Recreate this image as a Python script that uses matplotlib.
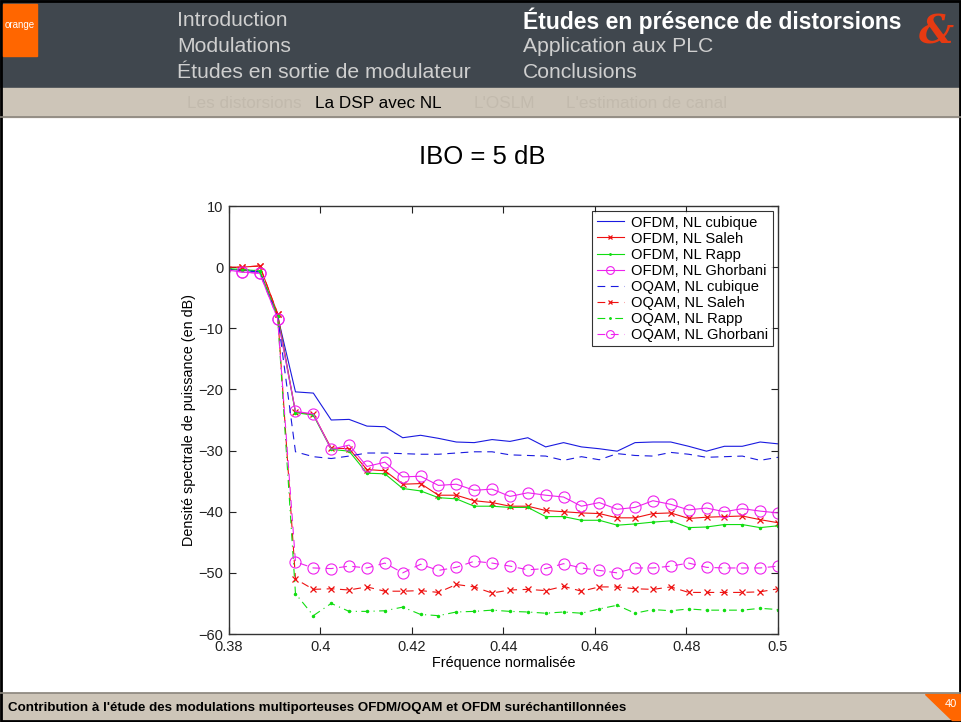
import numpy as np
import matplotlib
matplotlib.use("Agg")
import matplotlib.pyplot as plt
from matplotlib.patches import Rectangle, Polygon

plt.rcParams['font.family'] = ['Liberation Sans', 'DejaVu Sans']

# frequency bins k/256, k = 97..128
freq = np.arange(97, 129) / 256

ofdm_cubique = [-0.3, -0.5, -0.8, -8.0, -20.4, -20.6, -25.0, -24.9, -26.0, -26.1,
                -27.9, -27.5, -28.0, -28.6, -28.7, -28.2, -28.5, -27.9, -29.4, -28.7,
                -29.4, -29.7, -30.1, -28.7, -28.6, -28.6, -29.3, -30.1, -29.3, -29.3,
                -28.6, -28.9]
ofdm_saleh = [0.0, 0.0, 0.2, -7.6, -23.7, -24.1, -29.6, -29.7, -33.1, -33.3,
              -35.5, -35.4, -37.3, -37.3, -38.2, -38.5, -39.1, -39.1, -39.8, -40.0,
              -40.2, -40.3, -41.0, -41.0, -40.3, -40.2, -41.1, -40.9, -40.8, -40.7,
              -41.3, -41.8]
ofdm_rapp = [-0.2, -0.4, -0.6, -8.0, -23.8, -24.2, -29.8, -30.1, -33.7, -33.8,
             -36.2, -36.6, -37.7, -37.9, -39.1, -39.1, -39.3, -39.3, -40.8, -40.8,
             -41.4, -41.4, -42.2, -42.0, -41.7, -41.5, -42.6, -42.5, -42.1, -42.1,
             -42.6, -42.3]
ofdm_ghorbani = [-0.4, -0.8, -1.0, -8.4, -23.6, -24.0, -29.8, -29.1, -32.6, -31.9,
                 -34.3, -34.2, -35.7, -35.5, -36.5, -36.3, -37.5, -36.9, -37.3, -37.6,
                 -39.1, -38.5, -39.6, -39.3, -38.2, -38.8, -39.7, -39.4, -40.0, -39.5,
                 -39.9, -40.2]
oqam_cubique = [-0.3, -0.5, -0.8, -8.0, -30.2, -31.0, -31.3, -30.9, -30.4, -30.4,
                -30.5, -30.6, -30.6, -30.4, -30.2, -30.2, -30.7, -30.8, -30.9, -31.6,
                -31.0, -31.5, -30.5, -30.8, -30.9, -30.3, -30.6, -31.1, -31.0, -30.9,
                -31.6, -31.1]
oqam_saleh = [0.0, 0.0, 0.2, -7.6, -51.0, -52.7, -52.6, -52.8, -52.3, -53.0,
              -53.0, -52.9, -53.2, -51.9, -52.3, -53.3, -52.8, -52.7, -52.9, -52.2,
              -53.0, -52.3, -52.3, -52.6, -52.7, -52.3, -53.2, -53.2, -53.2, -53.2,
              -53.1, -52.6]
oqam_rapp = [-0.2, -0.4, -0.6, -8.0, -53.4, -57.0, -55.0, -56.3, -56.3, -56.2,
             -55.6, -56.8, -57.0, -56.4, -56.3, -56.1, -56.3, -56.4, -56.6, -56.4,
             -56.6, -55.9, -55.3, -56.6, -56.0, -56.2, -55.9, -56.1, -56.1, -56.1,
             -55.8, -56.0]
oqam_ghorbani = [-0.4, -0.8, -1.0, -8.4, -48.2, -49.2, -49.3, -48.9, -49.2, -48.4,
                 -50.0, -48.6, -49.6, -49.1, -48.1, -48.4, -48.9, -49.5, -49.3, -48.5,
                 -49.2, -49.6, -50.0, -49.2, -49.2, -48.9, -48.4, -49.1, -49.2, -49.2,
                 -49.2, -48.9]

xticks = [0.38, 0.4, 0.42, 0.44, 0.46, 0.48, 0.5]
yticks = [-60, -50, -40, -30, -20, -10, 0, 10]

W, H = 961, 722
fig = plt.figure(figsize=(W / 100, H / 100), dpi=100)

# slide background, drawn in pixel coordinates
bg = fig.add_axes([0, 0, 1, 1])
bg.set_xlim(0, W)
bg.set_ylim(H, 0)
bg.axis('off')

dark = '#40474e'
beige = '#cdc5b8'
bg.add_patch(Rectangle((0, 0), W, 88, color=dark))
bg.add_patch(Rectangle((0, 88), W, 29, color=beige))
bg.add_patch(Rectangle((0, 693), W, 29, color=beige))
bg.plot([0, W], [117, 117], color='#8a857c', lw=1.2)
bg.plot([0, W], [693, 693], color='#8a857c', lw=1.2)
bg.add_patch(Rectangle((1, 1), W - 2, H - 2, fill=False, ec='black', lw=2))

# orange logo
bg.add_patch(Rectangle((3, 4), 34, 52, color='#ff6600'))
bg.text(5, 25, 'orange', color='white', fontsize=7, va='center')
# & logo
bg.text(936, 32, '&', color='#e63a12', fontsize=28, style='italic',
        family='DejaVu Serif', ha='center', va='center', weight='bold')

grey = '#cfcfcf'
bg.text(177, 21, 'Introduction', color=grey, fontsize=15.2, va='center')
bg.text(177, 47, 'Modulations', color=grey, fontsize=15.2, va='center')
bg.text(177, 73, 'Études en sortie de modulateur', color=grey, fontsize=15.2, va='center')
bg.text(523, 21, 'Études en présence de distorsions', color='white', fontsize=16.5,
        weight='bold', va='center')
bg.text(523, 47, 'Application aux PLC', color=grey, fontsize=15.2, va='center')
bg.text(523, 73, 'Conclusions', color=grey, fontsize=15.2, va='center')

faded = '#c2baad'
bg.text(187, 103, 'Les distorsions', color=faded, fontsize=12.3, va='center')
bg.text(315, 103, 'La DSP avec NL', color='black', fontsize=12.3, va='center')
bg.text(474, 103, "L'OSLM", color=faded, fontsize=12.3, va='center')
bg.text(566, 103, "L'estimation de canal", color=faded, fontsize=12.3, va='center')

bg.text(8, 708, "Contribution à l'étude des modulations multiporteuses OFDM/OQAM et OFDM suréchantillonnées",
        color='black', fontsize=9.6, weight='bold', va='center')
bg.add_patch(Polygon([(925, 694), (960, 694), (960, 720), (952, 720)], closed=True,
                     color='#ff6600'))
bg.text(951, 704, '40', color='white', fontsize=8, ha='center', va='center')

bg.text(482, 157, 'IBO = 5 dB', color='black', fontsize=18.5, ha='center', va='center')

# main plot
ax = fig.add_axes([229 / W, 1 - 634 / H, (778 - 229) / W, (634 - 206) / H])

lw = 0.8
ax.plot(freq, ofdm_cubique, '-', color='#1a1ae0', lw=lw, label='OFDM, NL cubique')
ax.plot(freq, ofdm_saleh, '-x', color='#ee1111', lw=lw, ms=5, mew=0.9, label='OFDM, NL Saleh')
ax.plot(freq, ofdm_rapp, color='#11dd11', lw=lw, linestyle='-', marker='.', ms=3,
        label='OFDM, NL Rapp')
ax.plot(freq, ofdm_ghorbani, '-o', color='#ee22ee', lw=lw, ms=8, mfc='none', mew=0.8,
        label='OFDM, NL Ghorbani')
ax.plot(freq, oqam_cubique, '--', color='#1a1ae0', lw=lw, dashes=(7, 5), label='OQAM, NL cubique')
ax.plot(freq, oqam_saleh, '--x', color='#ee1111', lw=lw, ms=5, mew=0.9, dashes=(7, 5),
        label='OQAM, NL Saleh')
ax.plot(freq, oqam_rapp, '-.', color='#11dd11', lw=lw, marker='.', ms=3, dashes=(7, 4, 1, 4),
        label='OQAM, NL Rapp')
ax.plot(freq, oqam_ghorbani, '--o', color='#ee22ee', lw=lw, ms=8, mfc='none', mew=0.8,
        dashes=(7, 5), label='OQAM, NL Ghorbani')

ax.set_xlim(0.38, 0.5)
ax.set_ylim(-60, 10)
ax.set_xticks(xticks)
ax.set_xticklabels(['0.38', '0.4', '0.42', '0.44', '0.46', '0.48', '0.5'])
ax.set_yticks(yticks)
ax.set_yticklabels(['\u221260', '\u221250', '\u221240', '\u221230', '\u221220', '\u221210', '0', '10'])
ax.tick_params(direction='in', length=5, width=0.8, top=True, right=True,
               labelsize=10.5, colors='#222222', pad=4)
for s in ax.spines.values():
    s.set_linewidth(1.0)
    s.set_color('#333333')
ax.set_xlabel('Fréquence normalisée', fontsize=10.4, labelpad=2)
ax.set_ylabel('Densité spectrale de puissance (en dB)', fontsize=10.4, labelpad=2)

leg = ax.legend(loc='upper right', fontsize=10.6, handlelength=1.85, handletextpad=0.5,
                labelspacing=0.14, borderpad=0.3, borderaxespad=0.35, frameon=True,
                fancybox=False, edgecolor='black', markerscale=0.7)
leg.get_frame().set_linewidth(0.8)

fig.savefig('out.png', dpi=100)
